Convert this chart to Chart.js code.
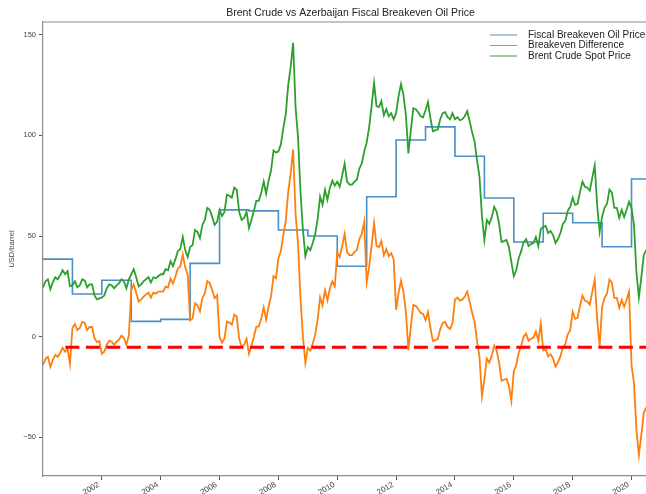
<!DOCTYPE html>
<html>
<head>
<meta charset="utf-8">
<title>Brent Crude vs Azerbaijan Fiscal Breakeven Oil Price</title>
<script src="https://cdn.jsdelivr.net/npm/chart.js@4.4.1/dist/chart.umd.min.js"></script>
<style>
  html, body { margin: 0; padding: 0; background: #fff; overflow: hidden; }
</style>
</head>
<body>
<canvas id="oil-chart" width="662" height="494"></canvas>
<script>
// monthly values, first one is Jan 2000
var startYear = 2000;

// Brent crude spot price, USD/barrel
var brentPrice = [
  24.5, 27.5, 28.5, 23.5, 27.0, 29.5, 28.5, 30.5, 33.0, 31.0, 32.5, 25.0,       // 2000
  25.5, 27.5, 24.5, 25.5, 28.5, 28.0, 24.5, 26.0, 26.0, 20.5, 18.5, 19.0,       // 2001
  19.5, 20.5, 24.0, 26.0, 25.5, 24.0, 25.5, 26.5, 28.5, 27.5, 24.0, 28.5,       // 2002
  31.0, 33.5, 29.5, 25.0, 26.0, 27.5, 28.5, 29.5, 27.0, 29.5, 29.0, 30.0,       // 2003
  31.0, 31.0, 33.5, 33.0, 37.5, 35.0, 38.5, 42.5, 43.5, 49.5, 43.0, 39.5,       // 2004
  44.5, 45.5, 53.0, 52.0, 49.0, 55.5, 58.0, 64.0, 63.0, 59.5, 55.5, 57.0,       // 2005
  63.0, 60.0, 62.0, 70.5, 70.0, 69.0, 74.0, 73.0, 62.0, 58.0, 59.0, 62.0,       // 2006
  54.0, 58.0, 62.5, 67.5, 67.5, 71.5, 77.0, 71.0, 77.5, 82.5, 92.5, 91.5,       // 2007
  92.0, 95.5, 103.5, 110.5, 125.0, 134.0, 146.0, 114.0, 99.0, 72.0, 53.0, 40.0, // 2008
  44.5, 43.0, 46.5, 51.0, 58.5, 69.5, 65.5, 73.0, 68.0, 74.0, 77.5, 75.0,       // 2009
  77.0, 74.5, 80.0, 86.0, 77.0, 75.5, 75.5, 77.0, 78.0, 83.5, 86.0, 92.0,       // 2010
  96.5, 104.0, 114.5, 126.0, 114.5, 114.0, 117.0, 110.0, 113.0, 109.5, 111.0, 108.0, // 2011
  111.0, 119.5, 125.5, 120.0, 110.0, 91.0, 102.5, 113.5, 113.0, 111.5, 109.5, 109.0, // 2012
  112.5, 116.5, 108.5, 102.0, 102.5, 103.0, 108.0, 111.0, 111.5, 109.0, 108.0, 111.0, // 2013
  108.0, 109.0, 107.5, 108.0, 109.5, 112.0, 107.0, 101.5, 97.0, 87.5, 79.5, 60.0,    // 2014
  48.0, 58.0, 56.0, 59.5, 64.5, 62.0, 56.0, 47.0, 47.5, 48.0, 44.5, 37.0,       // 2015
  30.0, 33.0, 39.0, 42.5, 47.0, 48.5, 45.0, 46.0, 46.5, 49.5, 45.0, 53.5,       // 2016
  54.5, 55.0, 51.5, 52.5, 50.5, 46.5, 48.5, 51.5, 56.0, 57.5, 62.5, 64.5,       // 2017
  69.0, 65.5, 66.0, 72.0, 77.0, 74.5, 74.0, 72.5, 79.0, 85.0, 65.0, 52.0,       // 2018
  59.5, 64.0, 66.0, 73.0, 71.5, 64.0, 64.0, 59.0, 63.0, 59.5, 63.0, 67.0,       // 2019
  64.0, 55.5, 32.0, 19.5, 29.5, 40.5, 43.0, 45.0, 41.0, 40.5, 43.5              // 2020
];

// Brent minus fiscal breakeven
var breakevenDiff = [
  -14.0, -11.0, -10.0, -15.0, -11.5, -9.0, -10.0, -8.0, -5.5, -7.5, -6.0, -13.5, // 2000
  4.3, 6.3, 3.3, 4.3, 7.3, 6.8, 3.3, 4.8, 4.8, -0.7, -2.7, -2.2,                 // 2001
  -8.5, -7.5, -4.0, -2.0, -2.5, -4.0, -2.5, -1.5, 0.5, -0.5, -4.0, 0.5,          // 2002
  23.4, 25.9, 21.9, 17.4, 18.4, 19.9, 20.9, 21.9, 19.4, 21.9, 21.4, 22.4,        // 2003
  22.4, 22.4, 24.9, 24.4, 28.9, 26.4, 29.9, 33.9, 34.9, 40.9, 34.4, 30.9,        // 2004
  8.1, 9.1, 16.6, 15.6, 12.6, 19.1, 21.6, 27.6, 26.6, 23.1, 19.1, 20.6,          // 2005
  0.0, -3.0, -1.0, 7.5, 7.0, 6.0, 11.0, 10.0, -1.0, -5.0, -4.0, -1.0,            // 2006
  -8.5, -4.5, 0.0, 5.0, 5.0, 9.0, 14.5, 8.5, 15.0, 20.0, 30.0, 29.0,             // 2007
  39.0, 42.5, 50.5, 57.5, 72.0, 81.0, 93.0, 61.0, 46.0, 19.0, 0.0, -13.0,        // 2008
  -5.5, -7.0, -3.5, 1.0, 8.5, 19.5, 15.5, 23.0, 18.0, 24.0, 27.5, 25.0,          // 2009
  42.0, 39.5, 45.0, 51.0, 42.0, 40.5, 40.5, 42.0, 43.0, 48.5, 51.0, 57.0,        // 2010
  27.0, 34.5, 45.0, 56.5, 45.0, 44.5, 47.5, 40.5, 43.5, 40.0, 41.5, 38.5,        // 2011
  13.3, 21.8, 27.8, 22.3, 12.3, -6.7, 4.8, 15.8, 15.3, 13.8, 11.8, 11.3,         // 2012
  8.3, 12.3, 4.3, -2.2, -1.7, -1.2, 3.8, 6.8, 7.3, 4.8, 3.8, 6.8,                // 2013
  18.4, 19.4, 17.9, 18.4, 19.9, 22.4, 17.4, 11.9, 7.4, -2.1, -10.1, -29.6,       // 2014
  -20.9, -10.9, -12.9, -9.4, -4.4, -6.9, -12.9, -21.9, -21.4, -20.9, -24.4, -31.9, // 2015
  -17.0, -14.0, -8.0, -4.5, 0.0, 1.5, -2.0, -1.0, -0.5, 2.5, -2.0, 6.5,          // 2016
  -6.8, -6.3, -9.8, -8.8, -10.8, -14.8, -12.8, -9.8, -5.3, -3.8, 1.2, 3.2,       // 2017
  12.4, 8.9, 9.4, 15.4, 20.4, 17.9, 17.4, 15.9, 22.4, 28.4, 8.4, -4.6,           // 2018
  14.8, 19.3, 21.3, 28.3, 26.8, 19.3, 19.3, 14.3, 18.3, 14.8, 18.3, 22.3,        // 2019
  -14.3, -22.8, -46.3, -58.8, -48.8, -37.8, -35.3, -33.3, -37.3, -37.8, -34.8    // 2020
];

// fiscal breakeven, one value per year
var breakevenYears = [2000, 2001, 2002, 2003, 2004, 2005, 2006, 2007, 2008, 2009, 2010,
                      2011, 2012, 2013, 2014, 2015, 2016, 2017, 2018, 2019, 2020];
var breakevenPrice = [38.5, 21.2, 28.0, 7.6, 8.6, 36.4, 63.0, 62.5, 53.0, 50.0, 35.0,
                      69.5, 97.7, 104.2, 89.6, 68.9, 47.0, 61.3, 56.6, 44.7, 78.3];

var thresholdLevel = -5.3;
var thresholdStart = 2000.76;

var xTickYears = [2002, 2004, 2006, 2008, 2010, 2012, 2014, 2016, 2018, 2020];
var yTickValues = [-50, 0, 50, 100, 150];
var xMin = 2000.0, xMax = 2020.9;
var yMin = -69.2, yMax = 156.3;

function monthly(values) {
  return values.map(function(v, i) {
    return { x: startYear + i / 12, y: v };
  });
}

var stepPoints = breakevenYears.map(function(yr, i) {
  return { x: yr, y: breakevenPrice[i] };
});
stepPoints.push({ x: xMax, y: breakevenPrice[breakevenPrice.length - 1] });

var fontName = '"Liberation Sans", Arial, sans-serif';

var framePlugin = {
  id: 'frame',
  beforeDatasetsDraw: function(chart) {
    var a = chart.chartArea, ctx = chart.ctx;
    ctx.save();
    ctx.strokeStyle = '#8c8c8c';
    ctx.lineWidth = 1.2;
    ctx.beginPath();
    ctx.moveTo(a.left, a.top);
    ctx.lineTo(a.right, a.top);
    ctx.lineTo(a.right, a.bottom);
    ctx.stroke();
    ctx.restore();
  },
  afterDraw: function(chart) {
    var a = chart.chartArea, ctx = chart.ctx;
    ctx.save();
    ctx.fillStyle = '#222';
    ctx.font = '10.5px ' + fontName;
    ctx.textAlign = 'center';
    ctx.textBaseline = 'middle';
    ctx.fillText('Brent Crude vs Azerbaijan Fiscal Breakeven Oil Price', (a.left + a.right) / 2, 13);

    // legend, inside the plot like matplotlib's
    var sets = chart.data.datasets.filter(function(d) { return d.inLegend; });
    ctx.font = '10px ' + fontName;
    ctx.textAlign = 'left';
    sets.forEach(function(d, i) {
      var y = 35 + i * 10.5;
      ctx.strokeStyle = d.borderColor;
      ctx.lineWidth = 1;
      ctx.beginPath();
      ctx.moveTo(490, y);
      ctx.lineTo(517, y);
      ctx.stroke();
      ctx.fillStyle = '#222';
      ctx.fillText(d.label, 528, y);
    });
    ctx.restore();
  }
};

new Chart(document.getElementById('oil-chart'), {
  type: 'line',
  data: {
    datasets: [
      {
        label: 'Fiscal Breakeven Oil Price',
        data: stepPoints,
        borderColor: '#4a8fc8',
        borderWidth: 1.6,
        stepped: true,
        inLegend: true,
        order: 3
      },
      {
        label: 'Breakeven Difference',
        data: monthly(breakevenDiff),
        borderColor: '#ff7f0e',
        borderWidth: 1.8,
        inLegend: true,
        order: 2
      },
      {
        label: 'Brent Crude Spot Price',
        data: monthly(brentPrice),
        borderColor: '#2ca02c',
        borderWidth: 1.8,
        inLegend: true,
        order: 1
      },
      {
        label: 'threshold',
        data: [{ x: thresholdStart, y: thresholdLevel }, { x: xMax, y: thresholdLevel }],
        borderColor: '#ff0000',
        borderWidth: 3,
        borderDash: [14, 6.5],
        inLegend: false,
        order: 0
      }
    ]
  },
  options: {
    responsive: false,
    animation: false,
    devicePixelRatio: 1,
    layout: { padding: { top: 22, right: 4, left: 0, bottom: 0 } },
    elements: {
      point: { radius: 0 },
      line: { tension: 0, fill: false }
    },
    plugins: {
      legend: { display: false },
      title: { display: false },
      tooltip: { enabled: false }
    },
    scales: {
      x: {
        type: 'linear',
        min: xMin,
        max: xMax,
        afterBuildTicks: function(scale) {
          scale.ticks = xTickYears.map(function(v) { return { value: v }; });
        },
        afterFit: function(scale) { scale.height = 18; },
        ticks: {
          autoSkip: false,
          minRotation: 30,
          maxRotation: 30,
          padding: 0,
          labelOffset: -3,
          color: '#444',
          font: { family: fontName, size: 8 },
          callback: function(v) { return String(v); }
        },
        grid: { drawOnChartArea: false, drawTicks: true, tickLength: 4, color: '#555' },
        border: { display: true, color: '#8c8c8c', width: 1.2 }
      },
      y: {
        type: 'linear',
        min: yMin,
        max: yMax,
        afterBuildTicks: function(scale) {
          scale.ticks = yTickValues.map(function(v) { return { value: v }; });
        },
        afterFit: function(scale) { scale.width = 43; },
        ticks: {
          padding: 3,
          color: '#444',
          font: { family: fontName, size: 7.5 },
          callback: function(v) { return v < 0 ? '\u2212' + Math.abs(v) : String(v); }
        },
        title: {
          display: true,
          text: 'USD/barrel',
          color: '#444',
          padding: { top: 7, bottom: 0 },
          font: { family: fontName, size: 7.5 }
        },
        grid: { drawOnChartArea: false, drawTicks: true, tickLength: 4, color: '#555' },
        border: { display: true, color: '#8c8c8c', width: 1.2 }
      }
    }
  },
  plugins: [framePlugin]
});
</script>
</body>
</html>
